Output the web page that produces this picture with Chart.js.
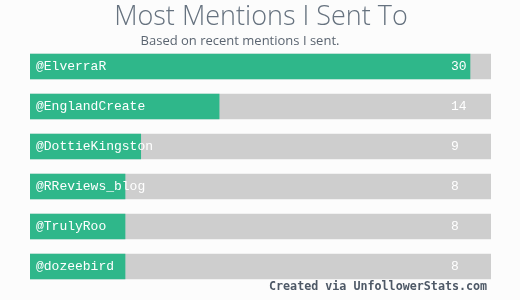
<!DOCTYPE html>
<html>
<head>
<meta charset="utf-8">
<script src="https://cdn.jsdelivr.net/npm/chart.js@4"></script>
<style>
  html, body { margin: 0; padding: 0; background: #fcfcfc; }
  #wrap { width: 520px; height: 300px; position: relative; }
</style>
</head>
<body>
<div id="wrap"><canvas id="chart" width="520" height="300"></canvas></div>
<script>
const handles = ['@ElverraR', '@EnglandCreate', '@DottieKingston', '@RReviews_blog', '@TrulyRoo', '@dozeebird'];
const mentions = [30, 14, 9, 8, 8, 8];
const trackMax = 31.34;
const tracks = handles.map(() => trackMax);

const titleText = 'Most Mentions I Sent To';
const subtitleText = 'Based on recent mentions I sent.';
const footerText = 'Created via UnfollowerStats.com';

// draws titles, handle names, counts and the footer
const textPlugin = {
  id: 'texts',
  afterDatasetsDraw(chart) {
    const ctx = chart.ctx;
    const y = chart.scales.y;
    ctx.save();
    ctx.textBaseline = 'middle';
    ctx.fillStyle = '#ffffff';
    ctx.font = '13px "Liberation Mono", monospace';
    handles.forEach((h, i) => {
      const py = y.getPixelForValue(i);
      ctx.textAlign = 'left';
      ctx.fillText(h, chart.chartArea.left + 6, py);
      ctx.fillText(String(mentions[i]), 451, py);
    });

    ctx.textAlign = 'center';
    ctx.fillStyle = '#66727f';
    ctx.font = '300 27px "Open Sans", sans-serif';
    ctx.fillText(titleText, 261, 17);
    ctx.fillStyle = '#5b6571';
    ctx.font = '13px "Open Sans", sans-serif';
    ctx.fillText(subtitleText, 240, 41);

    ctx.textAlign = 'left';
    ctx.fillStyle = '#4d5866';
    ctx.font = 'bold 11.7px "DejaVu Sans Mono", monospace';
    ctx.fillText(footerText, 269, 287);
    ctx.restore();
  }
};

new Chart(document.getElementById('chart').getContext('2d'), {
  type: 'bar',
  data: {
    labels: handles,
    datasets: [
      { data: mentions, backgroundColor: '#2fb78a', grouped: false, order: 1, barThickness: 25 },
      { data: tracks, backgroundColor: '#cecece', grouped: false, order: 2, barThickness: 25 }
    ]
  },
  options: {
    indexAxis: 'y',
    responsive: false,
    animation: false,
    layout: { padding: { left: 30, right: 29, top: 46.5, bottom: 13.5 } },
    scales: {
      x: { display: false, min: 1.94, max: trackMax },
      y: { display: false }
    },
    plugins: { legend: { display: false }, tooltip: { enabled: false }, title: { display: false } }
  },
  plugins: [textPlugin]
});
</script>
</body>
</html>
